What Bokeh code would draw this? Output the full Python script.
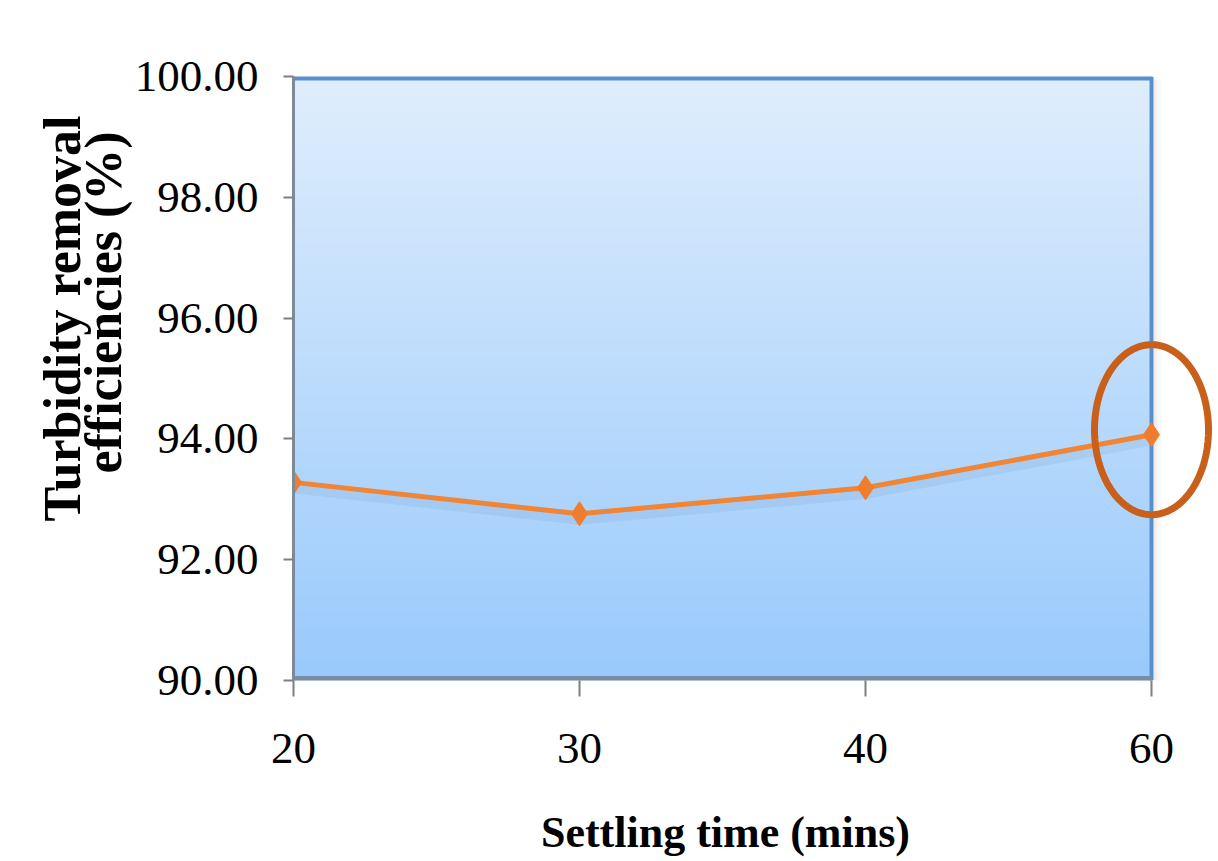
import numpy as np
from bokeh.plotting import figure
from bokeh.models import FixedTicker, PolyAnnotation, Range1d, NumeralTickFormatter, Title
from bokeh.embed import file_html
from bokeh.resources import INLINE

# Settling time categories (evenly spaced on the axis) and removal efficiencies (%)
settling_time = ["20", "30", "40", "60"]
removal_eff = [93.28, 92.76, 93.19, 94.07]
y_ticks = [90, 92, 94, 96, 98, 100]
y_min, y_max = 90, 100

# plot area in pixels; the frame runs on to the right edge so the ring can overhang it
AREA_W, AREA_H = 858, 604
AREA_TOP = 76
RIGHT_PAD = 67
x_pos = list(range(len(settling_time)))
x_max = len(settling_time) - 1
x_end = x_max * (AREA_W + RIGHT_PAD) / AREA_W
px_per_x = AREA_W / x_max
px_per_y = AREA_H / (y_max - y_min)
area_bottom = AREA_TOP + AREA_H

p = figure(frame_width=AREA_W + RIGHT_PAD, frame_height=AREA_H,
           x_range=Range1d(0, x_end), y_range=Range1d(y_min, y_max),
           min_border_left=293, min_border_right=0,
           min_border_top=AREA_TOP, min_border_bottom=181,
           output_backend="svg", toolbar_location=None)

p.background_fill_color = "white"
p.border_fill_color = "white"
p.outline_line_color = None
p.xgrid.visible = False
p.ygrid.visible = False

# vertical light-blue gradient filling the plot area
n = 256
t = np.linspace(0.0, 1.0, n)[:, None]
c_bottom = np.array([153, 202, 252], dtype=float)
c_top = np.array([224, 238, 252], dtype=float)
rgb = c_bottom + (c_top - c_bottom) * t
img = np.empty((n, 1), dtype=np.uint32)
view = img.view(dtype=np.uint8).reshape((n, 1, 4))
view[:, :, 0] = rgb[:, 0:1].astype(np.uint8)
view[:, :, 1] = rgb[:, 1:2].astype(np.uint8)
view[:, :, 2] = rgb[:, 2:3].astype(np.uint8)
view[:, :, 3] = 255
p.image_rgba(image=[img], x=0, y=y_min, dw=x_max, dh=y_max - y_min)

# soft shadow to the right of the plot area
for k, a in zip((3, 5, 7, 9), (0.16, 0.10, 0.06, 0.03)):
    xo = x_max + k / px_per_x
    p.segment(x0=[xo], y0=[y_min], x1=[xo], y1=[y_max - 3 / px_per_y],
              line_color="#808080", line_alpha=a, line_width=2)

# plot-area border: blue top and right, grey bottom (half of each wide line is clipped)
p.segment(x0=[0], y0=[y_max], x1=[x_max], y1=[y_max], line_color="#5B8FCB", line_width=8)
p.segment(x0=[x_max], y0=[y_min], x1=[x_max], y1=[y_max], line_color="#5B8FCB", line_width=4)
p.segment(x0=[0], y0=[y_min], x1=[x_max], y1=[y_min], line_color="#7A8CA4", line_width=9)

# series with a faint drop shadow
shadow_y = [v - 6 / px_per_y for v in removal_eff]
p.line(x_pos, shadow_y, line_color="#4A78A8", line_alpha=0.10, line_width=10)
p.line(x_pos, removal_eff, line_color="#F08536", line_width=5)
p.scatter(x_pos, removal_eff, marker="diamond", size=24,
          fill_color="#F07D2D", line_color="#F07D2D")

# highlight ring around the last point
theta = np.linspace(0, 2 * np.pi, 180)
cx, cy = x_pos[-1], removal_eff[-1] + 5 / px_per_y
xs = cx + (57 / px_per_x) * np.cos(theta)
ys = cy + (85 / px_per_y) * np.sin(theta)
p.add_layout(PolyAnnotation(xs=list(xs), ys=list(ys), fill_alpha=0, fill_color=None,
                            line_color="#C8601C", line_alpha=1.0, line_width=7))

# axes
serif = "Liberation Serif"
p.xaxis.ticker = FixedTicker(ticks=x_pos)
p.xaxis.major_label_overrides = {i: s for i, s in zip(x_pos, settling_time)}
p.yaxis.ticker = FixedTicker(ticks=y_ticks)
p.yaxis.formatter = NumeralTickFormatter(format="0.00")

for ax in (p.xaxis, p.yaxis):
    ax.major_label_text_font = serif
    ax.major_label_text_font_size = "45px"
    ax.major_label_text_color = "black"
    ax.major_tick_in = 0
    ax.minor_tick_line_color = None
    ax.major_tick_line_color = "#7F7F7F"
    ax.major_tick_line_width = 2

p.yaxis.axis_line_color = "#7F8A99"
p.yaxis.axis_line_width = 3
p.yaxis.major_tick_out = 10
p.yaxis.major_label_standoff = 25

p.xaxis.axis_line_color = None
p.xaxis.major_tick_out = 16
p.xaxis.major_label_standoff = 37

# axis titles
title_font = dict(text_font=serif, text_font_style="bold", text_color="black")
x_title_size = 44
x_title_len = 8.39 * x_title_size
p.add_layout(Title(text="Settling time (mins)", align="left",
                   offset=(AREA_W / 2 + 3) - x_title_len / 2,
                   text_font_size=f"{x_title_size}px", standoff=80, **title_font), "below")

y_title_size = 52
p.add_layout(Title(text="efficiencies (%)", align="left",
                   offset=area_bottom - (302 + 6.58 * y_title_size / 2),
                   text_font_size=f"{y_title_size}px", standoff=0, **title_font), "left")
p.add_layout(Title(text="Turbidity removal", align="left",
                   offset=area_bottom - (315 + 7.92 * y_title_size / 2),
                   text_font_size=f"{y_title_size}px", standoff=-36, **title_font), "left")

open("out.html", "w").write(file_html(p, INLINE))
